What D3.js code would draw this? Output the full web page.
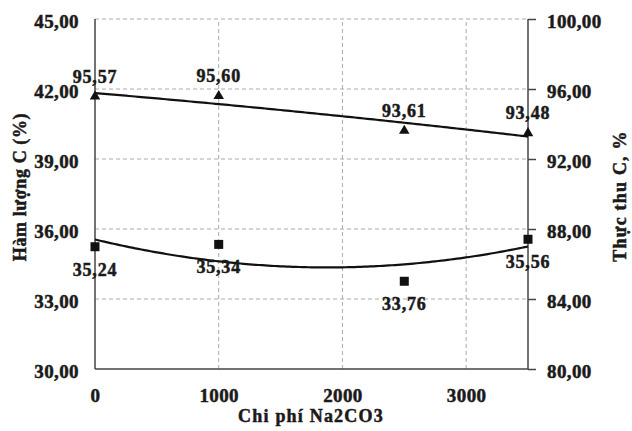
<!DOCTYPE html>
<html>
<head>
<meta charset="utf-8">
<script src="https://cdn.jsdelivr.net/npm/d3@7"></script>
<style>
  body { margin: 0; background: #fff; }
  svg text { font-family: "Liberation Serif", "Times New Roman", serif !important; font-weight: 700 !important; fill: #1a1a1a; stroke: #1a1a1a; stroke-width: 0.5px; }
</style>
</head>
<body>
<svg id="chart" width="632" height="431"></svg>
<script>
// chi phi Na2CO3 (x), ham luong C (left axis), thuc thu C (right axis)
const costs = [0, 1000, 2500, 3500];
const carbonContent = [35.24, 35.34, 33.76, 35.56];
const carbonRecovery = [95.57, 95.60, 93.61, 93.48];
const xTicks = [0, 1000, 2000, 3000];
const leftTicks = [30, 33, 36, 39, 42, 45];
const rightTicks = [80, 84, 88, 92, 96, 100];

const fmt = v => d3.format(".2f")(v).replace(".", ",");

const svg = d3.select("#chart");
const x = d3.scaleLinear().domain([0, 3500]).range([95, 528]);
const yL = d3.scaleLinear().domain([30, 45]).range([369, 19]);
const yR = d3.scaleLinear().domain([80, 100]).range([369, 19]);

// least squares quadratic (excel-like polynomial trendline)
function quadFit(xs, ys) {
    const s = k => d3.sum(xs, v => Math.pow(v, k));
    const t = k => d3.sum(xs, (v, i) => Math.pow(v, k) * ys[i]);
    const A = [[s(0), s(1), s(2)], [s(1), s(2), s(3)], [s(2), s(3), s(4)]];
    const B = [t(0), t(1), t(2)];
    for (let i = 0; i < 3; i++) {
        for (let j = i + 1; j < 3; j++) {
            const f = A[j][i] / A[i][i];
            for (let k = i; k < 3; k++) A[j][k] -= f * A[i][k];
            B[j] -= f * B[i];
        }
    }
    const c = [0, 0, 0];
    for (let i = 2; i >= 0; i--) {
        let r = B[i];
        for (let k = i + 1; k < 3; k++) r -= A[i][k] * c[k];
        c[i] = r / A[i][i];
    }
    return v => c[0] + c[1] * v + c[2] * v * v;
}

const xsK = costs.map(d => d / 1000);
const fitL = quadFit(xsK, carbonContent);
const fitR = quadFit(xsK, carbonRecovery);

// grid
svg.append("g")
    .selectAll("line")
    .data(leftTicks.slice(1))
    .join("line")
    .attr("x1", x(0)).attr("x2", x(3500))
    .attr("y1", d => yL(d)).attr("y2", d => yL(d))
    .attr("stroke", "#aaa").attr("stroke-width", 1)
    .attr("stroke-dasharray", "4,3");

svg.append("g")
    .selectAll("line")
    .data(xTicks.slice(1))
    .join("line")
    .attr("x1", d => x(d)).attr("x2", d => x(d))
    .attr("y1", yL(30)).attr("y2", yL(45))
    .attr("stroke", "#aaa").attr("stroke-width", 1)
    .attr("stroke-dasharray", "4,3");

// axes
const axisLeft = svg.append("g")
    .attr("transform", `translate(${x(0)},0)`)
    .call(d3.axisLeft(yL).tickValues(leftTicks).tickSize(0).tickPadding(16).tickFormat(fmt));
const axisRight = svg.append("g")
    .attr("transform", `translate(${x(3500)},0)`)
    .call(d3.axisRight(yR).tickValues(rightTicks).tickSize(8).tickPadding(11).tickFormat(fmt));
const axisBottom = svg.append("g")
    .attr("transform", `translate(0,${yL(30)})`)
    .call(d3.axisBottom(x).tickValues(xTicks).tickSize(0).tickPadding(20).tickFormat(d3.format("d")));

[axisLeft, axisRight, axisBottom].forEach(g => {
    g.select(".domain").attr("stroke", "#444").attr("stroke-width", 1.5);
    g.selectAll(".tick line").attr("stroke", "#444").attr("stroke-width", 1.5);
    g.selectAll("text")
        .attr("font-size", 19)
        .attr("letter-spacing", "0.4px");
});
axisLeft.select(".domain").attr("d", `M0,${yL(45)}V${yL(30)}`);
axisRight.select(".domain").attr("d", `M0,${yR(100)}V${yR(80)}`);
axisBottom.select(".domain").attr("d", `M${x(0)},0H${x(3500)}`);
axisLeft.selectAll("text").attr("dy", "0.45em");
axisRight.selectAll("text").attr("dy", "0.45em");

// trend lines
const curve = d3.range(0, 3501, 25);
svg.append("path")
    .datum(curve)
    .attr("fill", "none").attr("stroke", "#111").attr("stroke-width", 2.2)
    .attr("d", d3.line().x(d => x(d)).y(d => yR(fitR(d / 1000))));
svg.append("path")
    .datum(curve)
    .attr("fill", "none").attr("stroke", "#111").attr("stroke-width", 2.2)
    .attr("d", d3.line().x(d => x(d)).y(d => yL(fitL(d / 1000))));

// markers
svg.append("g")
    .selectAll("path")
    .data(costs)
    .join("path")
    .attr("transform", (d, i) => `translate(${x(d)},${yR(carbonRecovery[i])})`)
    .attr("d", d3.symbol(d3.symbolTriangle, 48))
    .attr("fill", "#111");

svg.append("g")
    .selectAll("rect")
    .data(costs)
    .join("rect")
    .attr("x", d => x(d) - 4.5)
    .attr("y", (d, i) => yL(carbonContent[i]) - 4.5)
    .attr("width", 9).attr("height", 9)
    .attr("fill", "#111");

// labels
svg.append("g")
    .selectAll("text")
    .data(costs)
    .join("text")
    .attr("x", d => x(d))
    .attr("y", (d, i) => yR(carbonRecovery[i]) - 14)
    .attr("text-anchor", "middle")
    .attr("font-size", 18)
    .attr("letter-spacing", "0.8px")
    .text((d, i) => fmt(carbonRecovery[i]));

svg.append("g")
    .selectAll("text")
    .data(costs)
    .join("text")
    .attr("x", d => x(d))
    .attr("y", (d, i) => yL(carbonContent[i]) + 29)
    .attr("text-anchor", "middle")
    .attr("font-size", 18)
    .attr("letter-spacing", "0.8px")
    .text((d, i) => fmt(carbonContent[i]));

// axis titles
svg.append("text")
    .attr("x", 311).attr("y", 422)
    .attr("text-anchor", "middle")
    .attr("font-size", 18)
    .attr("letter-spacing", "1.2px")
    .text("Chi phí Na2CO3");

svg.append("text")
    .attr("transform", "translate(26,187) rotate(-90)")
    .attr("text-anchor", "middle")
    .attr("font-size", 18)
    .attr("letter-spacing", "0.6px")
    .text("Hàm lượng C (%)");

svg.append("text")
    .attr("transform", "translate(626,196) rotate(-90)")
    .attr("text-anchor", "middle")
    .attr("font-size", 18)
    .attr("letter-spacing", "1.2px")
    .text("Thực thu C, %");
</script>
</body>
</html>
